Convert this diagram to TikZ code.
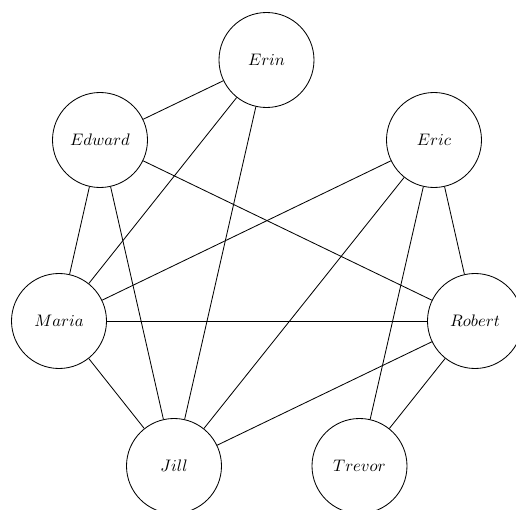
\documentclass[tikz,border=0pt]{standalone}
\begin{document}
\begin{tikzpicture}[x=0.6pt,y=-0.6pt,
  person/.style={circle,draw,line width=0.5pt,minimum size=57pt,inner sep=0pt},
  tie/.style={line width=0.5pt}]
\useasboundingbox (0,0) rectangle (516,510);
\node[person] (erin)   at (266.5,60)  {$Erin$};
\node[person] (edward) at (100,140)   {$Edward$};
\node[person] (eric)   at (434,140)   {$Eric$};
\node[person] (maria)  at (59,321)    {$Maria$};
\node[person] (robert) at (475,321)   {$Robert$};
\node[person] (jill)   at (174,466)   {$Jill$};
\node[person] (trevor) at (359.5,466) {$Trevor$};
\draw[tie] (erin) -- (edward);
\draw[tie] (erin) -- (maria);
\draw[tie] (erin) -- (jill);
\draw[tie] (edward) -- (maria);
\draw[tie] (edward) -- (jill);
\draw[tie] (edward) -- (robert);
\draw[tie] (eric) -- (maria);
\draw[tie] (eric) -- (jill);
\draw[tie] (eric) -- (trevor);
\draw[tie] (eric) -- (robert);
\draw[tie] (maria) -- (robert);
\draw[tie] (maria) -- (jill);
\draw[tie] (robert) -- (jill);
\draw[tie] (robert) -- (trevor);
\end{tikzpicture}
\end{document}
